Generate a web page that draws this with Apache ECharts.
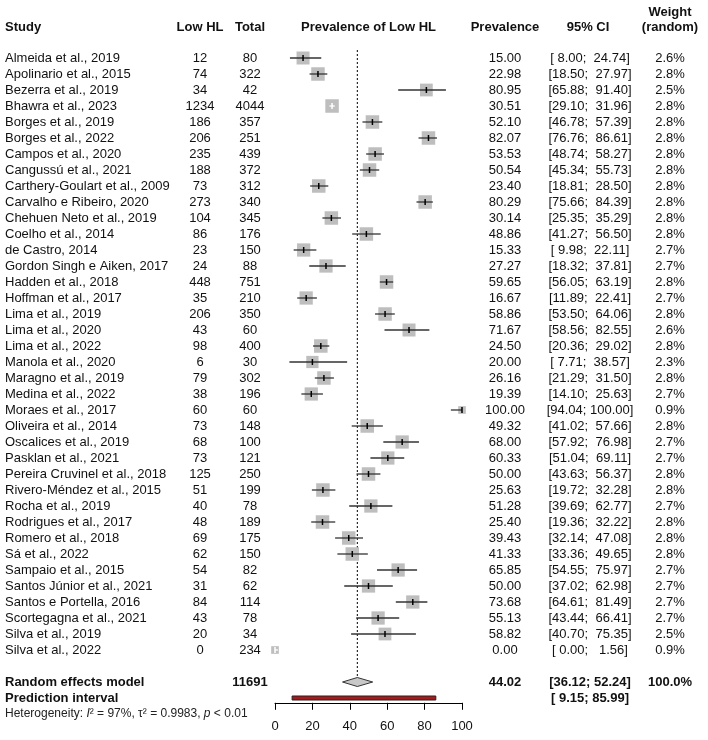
<!DOCTYPE html>
<html><head><meta charset="utf-8">
<script src="https://cdn.jsdelivr.net/npm/echarts@6/dist/echarts.min.js"></script>
<style>html,body{margin:0;padding:0;background:#fff}#c{width:708px;height:740px}</style>
</head><body><div id="c"></div>
<script>
const studies = ["Almeida et al., 2019","Apolinario et al., 2015","Bezerra et al., 2019","Bhawra et al., 2023","Borges et al., 2019","Borges et al., 2022","Campos et al., 2020","Cangussú et al., 2021","Carthery-Goulart et al., 2009","Carvalho e Ribeiro, 2020","Chehuen Neto et al., 2019","Coelho et al., 2014","de Castro, 2014","Gordon Singh e Aiken, 2017","Hadden et al., 2018","Hoffman et al., 2017","Lima et al., 2019","Lima et al., 2020","Lima et al., 2022","Manola et al., 2020","Maragno et al., 2019","Medina et al., 2022","Moraes et al., 2017","Oliveira et al., 2014","Oscalices et al., 2019","Pasklan et al., 2021","Pereira Cruvinel et al., 2018","Rivero-Méndez et al., 2015","Rocha et al., 2019","Rodrigues et al., 2017","Romero et al., 2018","Sá et al., 2022","Sampaio et al., 2015","Santos Júnior et al., 2021","Santos e Portella, 2016","Scortegagna et al., 2021","Silva et al., 2019","Silva et al., 2022"];
const lowHL = [12,74,34,1234,186,206,235,188,73,273,104,86,23,24,448,35,206,43,98,6,79,38,60,73,68,73,125,51,40,48,69,62,54,31,84,43,20,0];
const totals = [80,322,42,4044,357,251,439,372,312,340,345,176,150,88,751,210,350,60,400,30,302,196,60,148,100,121,250,199,78,189,175,150,82,62,114,78,34,234];
const prevalence = [15.00,22.98,80.95,30.51,52.10,82.07,53.53,50.54,23.40,80.29,30.14,48.86,15.33,27.27,59.65,16.67,58.86,71.67,24.50,20.00,26.16,19.39,100.00,49.32,68.00,60.33,50.00,25.63,51.28,25.40,39.43,41.33,65.85,50.00,73.68,55.13,58.82,0.00];
const ciLower = [8.00,18.50,65.88,29.10,46.78,76.76,48.74,45.34,18.81,75.66,25.35,41.27,9.98,18.32,56.05,11.89,53.50,58.56,20.36,7.71,21.29,14.10,94.04,41.02,57.92,51.04,43.63,19.72,39.69,19.36,32.14,33.36,54.55,37.02,64.61,43.44,40.70,0.00];
const ciUpper = [24.74,27.97,91.40,31.96,57.39,86.61,58.27,55.73,28.50,84.39,35.29,56.50,22.11,37.81,63.19,22.41,64.06,82.55,29.02,38.57,31.50,25.63,100.00,57.66,76.98,69.11,56.37,32.28,62.77,32.22,47.08,49.65,75.97,62.98,81.49,66.41,75.35,1.56];
const weights = [2.6,2.8,2.5,2.8,2.8,2.8,2.8,2.8,2.8,2.8,2.8,2.8,2.7,2.7,2.8,2.7,2.8,2.6,2.8,2.3,2.8,2.7,0.9,2.8,2.7,2.7,2.8,2.8,2.7,2.8,2.8,2.8,2.7,2.7,2.7,2.7,2.5,0.9];
const pooledTotal = 11691;
const pooledEstimate = [44.02];
const pooledCI = [36.12, 52.24];
const predictionCI = [9.15, 85.99];
const pooledWeight = "100.0%";
const xTicks = [0, 20, 40, 60, 80, 100];
const headers = {study:"Study", low:"Low HL", total:"Total", plot:"Prevalence of Low HL", prev:"Prevalence", ci:"95% CI", w1:"Weight", w2:"(random)"};

const FONT = '"Liberation Sans", Arial, sans-serif';
const INK = '#111';
const COL = {study:5, low:200, total:250, prev:505, ci:590, ciHead:588, weight:670};
const pooledRow = studies.length + 1;
const predRow = studies.length + 2;
const hetRow = studies.length + 3;

function pad(s, n){ while (s.length < n) s = ' ' + s; return s; }
function ciText(lo, hi, nl, nh){ return '[' + pad(lo.toFixed(2), nl) + '; ' + pad(hi.toFixed(2), nh) + ']'; }
function txt(x, y, text, align, bold, size){
  return {type:'text', x:x, y:y, style:{text:text, fill:INK, fontFamily:FONT, fontSize:size||13, fontWeight:bold?'bold':'normal', align:align, verticalAlign:'middle'}};
}

const chart = echarts.init(document.getElementById('c'), null, {renderer:'canvas'});
const gridTop = 42, rowH = 16, yMin = -1, yMax = 40.3;

const option = {
  animation:false,
  backgroundColor:'#fff',
  grid:{left:275, width:187, top:gridTop, height:(yMax - yMin) * rowH, containLabel:false},
  xAxis:{type:'value', min:0, max:100, interval:20, position:'bottom',
    axisLine:{show:true, onZero:false, lineStyle:{color:'#000', width:1}},
    axisTick:{show:true, inside:false, length:7, lineStyle:{color:'#000', width:1}},
    axisLabel:{show:true, margin:17, fontSize:13, color:INK, fontFamily:FONT},
    splitLine:{show:false}},
  yAxis:{type:'value', inverse:true, min:yMin, max:yMax, show:false, splitLine:{show:false}},
  graphic:[
    txt(COL.study, gridTop - rowH + 1, headers.study, 'left', true),
    txt(COL.low, gridTop - rowH + 1, headers.low, 'center', true),
    txt(COL.total, gridTop - rowH + 1, headers.total, 'center', true),
    txt(368.5, gridTop - rowH + 1, headers.plot, 'center', true),
    txt(COL.prev, gridTop - rowH + 1, headers.prev, 'center', true),
    txt(COL.ciHead, gridTop - rowH + 1, headers.ci, 'center', true),
    txt(COL.weight, gridTop - 2*rowH + 2, headers.w1, 'center', true),
    txt(COL.weight, gridTop - rowH + 1, headers.w2, 'center', true)
  ],
  series:[
    {
      type:'custom', clip:false, silent:true,
      data: studies.map((s, i) => [0, i]),
      encode:{x:0, y:1},
      renderItem:function(params, api){
        const i = params.dataIndex;
        const y = api.coord([0, api.value(1)])[1];
        return {type:'group', children:[
          txt(COL.study, y, studies[i], 'left'),
          txt(COL.low, y, String(lowHL[i]), 'center'),
          txt(COL.total, y, String(totals[i]), 'center'),
          txt(COL.prev, y, prevalence[i].toFixed(2), 'center'),
          txt(COL.ci, y, ciText(ciLower[i], ciUpper[i], 5, 6), 'center'),
          txt(COL.weight, y, weights[i].toFixed(1) + '%', 'center')
        ]};
      }
    },
    {
      type:'custom', clip:false, silent:true, z:1,
      data:[[pooledEstimate[0], pooledCI[0], pooledCI[1], predictionCI[0], predictionCI[1]]],
      encode:{x:[0,1,2,3,4]},
      renderItem:function(params, api){
        const est = api.value(0), lo = api.value(1), hi = api.value(2), plo = api.value(3), phi = api.value(4);
        const pc = api.coord([est, pooledRow]);
        const pl = api.coord([lo, pooledRow]);
        const ph = api.coord([hi, pooledRow]);
        const top = api.coord([est, -0.5]);
        const dh = 4.5;
        const r1 = api.coord([plo, predRow]);
        const r2 = api.coord([phi, predRow]);
        const hy = api.coord([0, hetRow])[1];
        return {type:'group', children:[
          {type:'line', shape:{x1:pc[0], y1:top[1], x2:pc[0], y2:pc[1]-dh}, style:{stroke:'#000', lineWidth:1, lineDash:[2,2]}},
          {type:'polygon', shape:{points:[[pl[0],pc[1]],[pc[0],pc[1]-dh],[ph[0],pc[1]],[pc[0],pc[1]+dh]]}, style:{fill:'#c8c8c8', stroke:'#333', lineWidth:1}},
          {type:'rect', shape:{x:r1[0], y:r1[1]-2, width:r2[0]-r1[0], height:4}, style:{fill:'#a8191c', stroke:'#222', lineWidth:1}},
          txt(COL.study, pc[1], 'Random effects model', 'left', true),
          txt(COL.total, pc[1], String(pooledTotal), 'center', true),
          txt(COL.prev, pc[1], est.toFixed(2), 'center', true),
          txt(COL.ci, pc[1], ciText(lo, hi, 5, 5), 'center', true),
          txt(COL.weight, pc[1], pooledWeight, 'center', true),
          txt(COL.study, r1[1], 'Prediction interval', 'left', true),
          txt(COL.ci, r1[1], ciText(plo, phi, 5, 5), 'center', true),
          {type:'text', x:COL.study, y:hy, style:{
            text:'{n|Heterogeneity: }{i|I}{n|² = 97%, τ² = 0.9983, }{i|p}{n| < 0.01}',
            fill:'#222', fontFamily:FONT, fontSize:12, align:'left', verticalAlign:'middle',
            rich:{n:{fontFamily:FONT, fontSize:12, fill:'#222'}, i:{fontFamily:FONT, fontSize:12, fontStyle:'italic', fill:'#222'}}
          }}
        ]};
      }
    },
    {
      type:'custom', clip:false, silent:true, z:3,
      data: studies.map((s, i) => [prevalence[i], ciLower[i], ciUpper[i], i, weights[i]]),
      encode:{x:[0,1,2], y:3},
      renderItem:function(params, api){
        const est = api.value(0), lo = api.value(1), hi = api.value(2), row = api.value(3), w = api.value(4);
        const pc = api.coord([est, row]);
        const pl = api.coord([lo, row]);
        const ph = api.coord([hi, row]);
        const size = 13.5 * Math.sqrt(w / 2.8);
        const inside = (ph[0] - pl[0]) < size - 1;
        const lc = inside ? '#fff' : '#333';
        return {type:'group', children:[
          {type:'rect', shape:{x:pc[0]-size/2, y:pc[1]-size/2, width:size, height:size}, style:{fill:'#bebebe'}},
          {type:'line', shape:{x1:pl[0], y1:pc[1], x2:ph[0], y2:pc[1]}, style:{stroke:lc, lineWidth:1.3}},
          {type:'line', shape:{x1:pc[0], y1:pc[1]-3, x2:pc[0], y2:pc[1]+3}, style:{stroke:inside?'#fff':'#000', lineWidth:1.5}}
        ]};
      }
    }
  ]
};
chart.setOption(option);
</script></body></html>
